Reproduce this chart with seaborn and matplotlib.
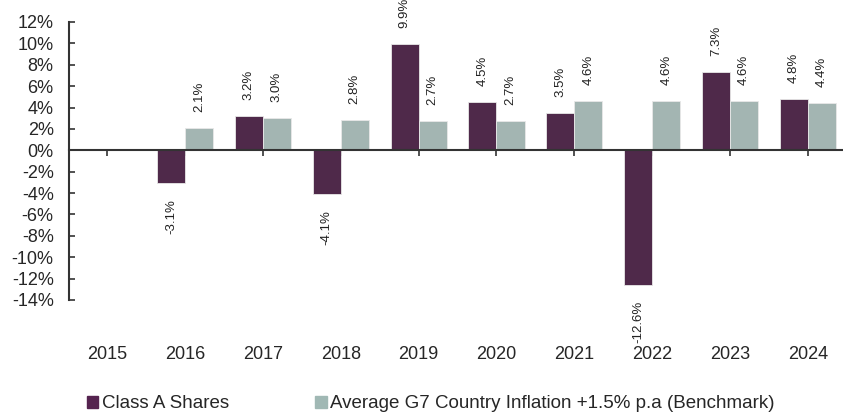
import numpy as np
import pandas as pd
import matplotlib.pyplot as plt
import seaborn as sns

years = ['2015', '2016', '2017', '2018', '2019', '2020', '2021', '2022', '2023', '2024']
class_a = [np.nan, -3.1, 3.2, -4.1, 9.9, 4.5, 3.5, -12.6, 7.3, 4.8]
benchmark = [np.nan, 2.1, 3.0, 2.8, 2.7, 2.7, 4.6, 4.6, 4.6, 4.4]
series = ['Class A Shares', 'Average G7 Country Inflation +1.5% p.a (Benchmark)']
colors = ['#55234f', '#a0b8b4']

data = pd.DataFrame({
    'Year': years * 2,
    'Return': class_a + benchmark,
    'Series': [series[0]] * len(years) + [series[1]] * len(years),
})

sns.set_style('white')
plt.rcParams['font.family'] = ['Liberation Sans', 'DejaVu Sans']

fig = plt.figure(figsize=(8.43, 4.16), dpi=100)
ax = fig.add_axes([69 / 843, 116 / 416, 1 - 69 / 843, 278 / 416])

sns.barplot(data=data, x='Year', y='Return', hue='Series', order=years,
            hue_order=series, palette=colors, width=0.72, ax=ax,
            edgecolor='#e8e8e8', linewidth=0.6, legend=False)

for cont in ax.containers:
    ax.bar_label(cont, fmt='%.1f%%', rotation=90, padding=11.5, fontsize=9.5,
                 color='#222222')

ax.set_ylim(-14, 12)
ax.set_xlim(-0.49, 9.45)
yt = np.arange(-14, 13, 2)
ax.set_yticks(yt, [f'{v}%' for v in yt])
ax.tick_params(axis='y', direction='in', length=4, width=1.2, pad=11,
               labelsize=13, color='#333333', left=True)
ax.set_xticks(range(len(years)))
ax.tick_params(axis='x', direction='out', length=4, width=1.2,
               labelbottom=False, color='#333333', bottom=True)
ax.set_xlabel('')
ax.set_ylabel('')

for side in ['top', 'right']:
    ax.spines[side].set_visible(False)
ax.spines['bottom'].set_position(('data', 0))
for side in ['left', 'bottom']:
    ax.spines[side].set_linewidth(1.5)
    ax.spines[side].set_color('#333333')

sec = ax.secondary_xaxis(0)
sec.set_xticks(range(len(years)), years)
sec.tick_params(length=0, pad=33, labelsize=13)
sec.spines['bottom'].set_visible(False)

handles = [plt.Rectangle((0, 0), 1, 1, color=c) for c in colors]
fig.legend(handles, series, loc='center', bbox_to_anchor=(431 / 843, 1 - 404 / 416),
           ncol=2, frameon=False, fontsize=13.5, handlelength=0.6, handleheight=0.6,
           handletextpad=0.2, columnspacing=4.6)

fig.savefig('out.png', dpi=100)
